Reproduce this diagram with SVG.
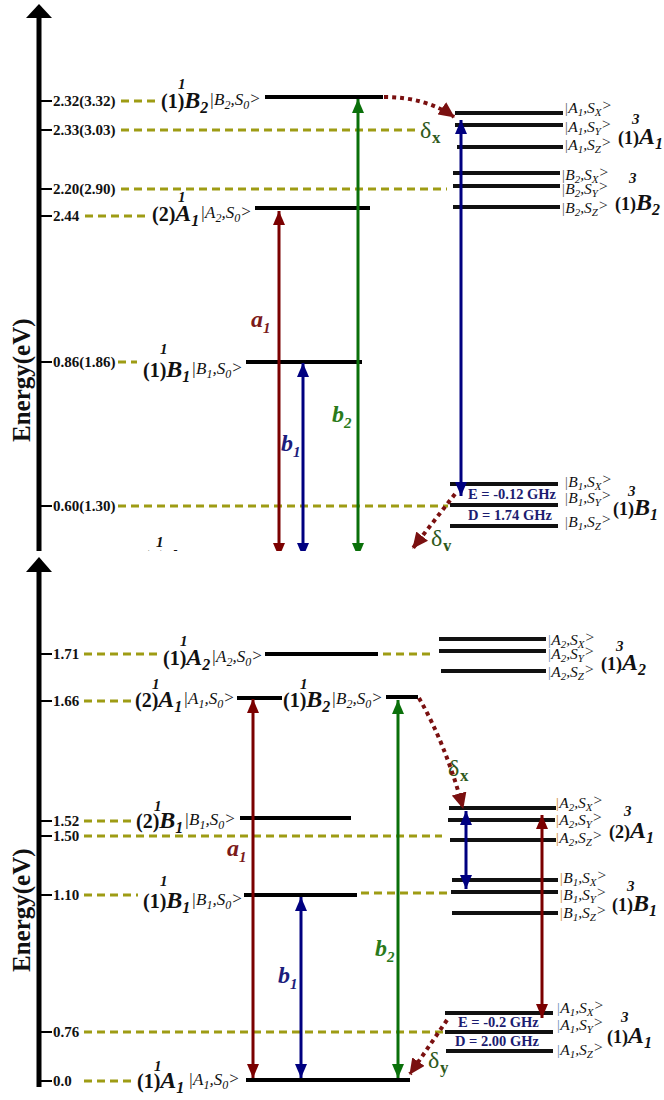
<svg xmlns="http://www.w3.org/2000/svg" width="664" height="1100" viewBox="0 0 664 1100">
<style>
text{font-family:"Liberation Serif","DejaVu Serif",serif;fill:#111}
.lv{stroke:#000;stroke-width:4}
.tl{stroke:#111;stroke-width:4}
.dash{stroke:#9e9c14;stroke-width:3;stroke-dasharray:8 5}
.tick{stroke:#000;stroke-width:2}
.axl{stroke:#000;stroke-width:5}
.num{font-size:15px;font-weight:bold}
.pn{font-size:20px;font-weight:bold}
.pt{font-size:18px;font-weight:bold}
.bg{font-size:24px;font-weight:bold;font-style:italic}
.bs{font-size:16px;font-weight:bold;font-style:italic}
.k{font-size:17px;font-style:italic}
.ks{font-size:12px;font-style:italic}
.r .k{font-size:15.5px}
.r .ks{font-size:11px}
.sup{font-size:15px;font-weight:bold;font-style:italic}
.ax{font-size:25px;font-weight:bold}
.ed{font-size:14.5px;font-weight:bold;fill:#1c1c70}
.del{font-size:24px;fill:#2f5a1c}
.dels{font-size:17px;font-weight:bold;fill:#2f5a1c}
.ar{stroke-width:3;fill:none}
.red{stroke:#7b0000}
.blu{stroke:#000080}
.grn{stroke:#0a700a}
.dot{stroke:#7a1010;stroke-width:4;stroke-dasharray:4 4;fill:none}
.la{font-size:24px;font-weight:bold;font-style:italic}
.lsub{font-size:15px;font-weight:bold;font-style:italic}
.bt{fill:#666}
.bb{fill:#7090b8}
.bo{fill:#d08a30}
</style>
<defs>
<clipPath id="clipTop"><rect x="0" y="0" width="664" height="551"/></clipPath>
<marker id="hr" viewBox="0 0 14 12" refX="14" refY="6" markerWidth="14" markerHeight="12" markerUnits="userSpaceOnUse" orient="auto-start-reverse"><path d="M0,0L14,6L0,12Z" fill="#7b0000"/></marker>
<marker id="hb" viewBox="0 0 14 12" refX="14" refY="6" markerWidth="14" markerHeight="12" markerUnits="userSpaceOnUse" orient="auto-start-reverse"><path d="M0,0L14,6L0,12Z" fill="#000080"/></marker>
<marker id="hg" viewBox="0 0 14 12" refX="14" refY="6" markerWidth="14" markerHeight="12" markerUnits="userSpaceOnUse" orient="auto-start-reverse"><path d="M0,0L14,6L0,12Z" fill="#0a700a"/></marker>
<marker id="hd" viewBox="0 0 16 15" refX="15" refY="7.5" markerWidth="16" markerHeight="15" markerUnits="userSpaceOnUse" orient="auto"><path d="M0,0L16,7.5L0,15Z" fill="#7a1010"/></marker>
</defs>
<rect width="664" height="1100" fill="#fff"/>

<!-- ================= TOP PANEL ================= -->
<g id="top-panel" clip-path="url(#clipTop)">
<g id="axis-top">
<line class="axl" x1="39" y1="16" x2="39" y2="556"/>
<polygon points="39,4 26,18 52,18" fill="#000"/>
<text class="ax" transform="translate(30,442) rotate(-90)">Energy(eV)</text>
</g>

<g id="t-s1B2">
<line class="tick" x1="41" y1="101" x2="52" y2="101"/>
<text class="num" x="53" y="106">2.32(3.32)</text>
<line class="dash" x1="121" y1="101" x2="158" y2="101"/>
<text x="161" y="108"><tspan class="pn">(1)</tspan><tspan class="bg">B</tspan><tspan class="bs" dy="5">2</tspan><tspan class="k" dy="-8" dx="1">|B</tspan><tspan class="ks" dy="4">2</tspan><tspan class="k" dy="-4">,S</tspan><tspan class="ks" dy="4">0</tspan><tspan class="k" dy="-5">&gt;</tspan></text>
<text class="sup" x="178" y="89">1</text>
<line class="lv" x1="265" y1="97" x2="383" y2="97"/>
</g>

<g id="t-s2A1">
<line class="tick" x1="41" y1="216" x2="52" y2="216"/>
<text class="num" x="53" y="221">2.44</text>
<line class="dash" x1="85" y1="216" x2="149" y2="216"/>
<text x="152" y="221"><tspan class="pn">(2)</tspan><tspan class="bg">A</tspan><tspan class="bs" dy="5">1</tspan><tspan class="k" dy="-8" dx="1">|A</tspan><tspan class="ks" dy="4">2</tspan><tspan class="k" dy="-4">,S</tspan><tspan class="ks" dy="4">0</tspan><tspan class="k" dy="-5">&gt;</tspan></text>
<text class="sup" x="178" y="202">1</text>
<line class="lv" x1="255" y1="208" x2="370" y2="208"/>
</g>

<g id="t-s1B1">
<line class="tick" x1="41" y1="362" x2="52" y2="362"/>
<text class="num" x="53" y="367">0.86(1.86)</text>
<line class="dash" x1="118" y1="362" x2="137" y2="362"/>
<text x="143" y="377"><tspan class="pn">(1)</tspan><tspan class="bg">B</tspan><tspan class="bs" dy="5">1</tspan><tspan class="k" dy="-8" dx="1">|B</tspan><tspan class="ks" dy="4">1</tspan><tspan class="k" dy="-4">,S</tspan><tspan class="ks" dy="4">0</tspan><tspan class="k" dy="-5">&gt;</tspan></text>
<text class="sup" x="160" y="354">1</text>
<line class="lv" x1="246" y1="362" x2="362" y2="362"/>
</g>

<g id="t-s1A1">
<text x="143" y="565"><tspan class="pn">(1)</tspan><tspan class="bg">A</tspan><tspan class="bs" dy="5">1</tspan></text>
<text class="sup" x="156" y="547">1</text>
</g>

<g id="t-t1A1">
<line class="tick" x1="41" y1="130" x2="52" y2="130"/>
<text class="num" x="53" y="135">2.33(3.03)</text>
<line class="dash" x1="121" y1="130" x2="418" y2="130"/>
<line class="tl" x1="455" y1="113" x2="563" y2="113"/>
<line class="tl" x1="455" y1="125" x2="563" y2="125"/>
<line class="tl" x1="457" y1="147" x2="563" y2="147"/>
<g class="r">
<text x="564" y="113"><tspan class="k bt">|</tspan><tspan class="k">A</tspan><tspan class="ks" dy="3">1</tspan><tspan class="k" dy="-3">,S</tspan><tspan class="ks" dy="3">X</tspan><tspan class="k" dy="-6">&gt;</tspan></text>
<text x="564" y="132"><tspan class="k bt">|</tspan><tspan class="k">A</tspan><tspan class="ks" dy="3">1</tspan><tspan class="k" dy="-3">,S</tspan><tspan class="ks" dy="3">Y</tspan><tspan class="k" dy="-6">&gt;</tspan></text>
<text x="564" y="150"><tspan class="k bt">|</tspan><tspan class="k">A</tspan><tspan class="ks" dy="3">1</tspan><tspan class="k" dy="-3">,S</tspan><tspan class="ks" dy="3">Z</tspan><tspan class="k" dy="-6">&gt;</tspan></text>
</g>
<text x="618" y="144"><tspan class="pt">(1)</tspan><tspan class="bg">A</tspan><tspan class="bs" dy="5">1</tspan></text>
<text class="sup" x="632" y="124">3</text>
<text class="del" x="420" y="138">δ</text><text class="dels" x="432" y="143">x</text>
</g>

<g id="t-t1B2">
<line class="tick" x1="41" y1="189" x2="52" y2="189"/>
<text class="num" x="53" y="194">2.20(2.90)</text>
<line class="dash" x1="121" y1="189" x2="447" y2="189"/>
<line class="tl" x1="453" y1="173" x2="560" y2="173"/>
<line class="tl" x1="453" y1="186" x2="560" y2="186"/>
<line class="tl" x1="453" y1="207" x2="560" y2="207"/>
<g class="r">
<text x="561" y="180"><tspan class="k bt">|</tspan><tspan class="k">B</tspan><tspan class="ks" dy="3">2</tspan><tspan class="k" dy="-3">,S</tspan><tspan class="ks" dy="3">X</tspan><tspan class="k" dy="-6">&gt;</tspan></text>
<text x="561" y="194"><tspan class="k bt">|</tspan><tspan class="k">B</tspan><tspan class="ks" dy="3">2</tspan><tspan class="k" dy="-3">,S</tspan><tspan class="ks" dy="3">Y</tspan><tspan class="k" dy="-6">&gt;</tspan></text>
<text x="561" y="213"><tspan class="k bt">|</tspan><tspan class="k">B</tspan><tspan class="ks" dy="3">2</tspan><tspan class="k" dy="-3">,S</tspan><tspan class="ks" dy="3">Z</tspan><tspan class="k" dy="-6">&gt;</tspan></text>
</g>
<text x="615" y="210"><tspan class="pt">(1)</tspan><tspan class="bg">B</tspan><tspan class="bs" dy="5">2</tspan></text>
<text class="sup" x="629" y="183">3</text>
</g>

<g id="t-t1B1">
<line class="tick" x1="41" y1="506" x2="52" y2="506"/>
<text class="num" x="53" y="511">0.60(1.30)</text>
<line class="dash" x1="118" y1="506" x2="448" y2="506"/>
<line class="tl" x1="450" y1="484" x2="558" y2="484"/>
<line class="tl" x1="450" y1="505" x2="558" y2="505"/>
<line class="tl" x1="450" y1="526" x2="558" y2="526"/>
<text class="ed" x="468" y="499">E = -0.12 GHz</text>
<text class="ed" x="468" y="520">D = 1.74 GHz</text>
<g class="r">
<text x="564" y="487"><tspan class="k bt">|</tspan><tspan class="k">B</tspan><tspan class="ks" dy="3">1</tspan><tspan class="k" dy="-3">,S</tspan><tspan class="ks" dy="3">X</tspan><tspan class="k" dy="-6">&gt;</tspan></text>
<text x="564" y="503"><tspan class="k bt">|</tspan><tspan class="k">B</tspan><tspan class="ks" dy="3">1</tspan><tspan class="k" dy="-3">,S</tspan><tspan class="ks" dy="3">Y</tspan><tspan class="k" dy="-6">&gt;</tspan></text>
<text x="564" y="527"><tspan class="k bt">|</tspan><tspan class="k">B</tspan><tspan class="ks" dy="3">1</tspan><tspan class="k" dy="-3">,S</tspan><tspan class="ks" dy="3">Z</tspan><tspan class="k" dy="-6">&gt;</tspan></text>
</g>
<text x="613" y="515"><tspan class="pt">(1)</tspan><tspan class="bg">B</tspan><tspan class="bs" dy="5">1</tspan></text>
<text class="sup" x="628" y="496">3</text>
<text class="del" x="431" y="546">δ</text><text class="dels" x="443" y="551">y</text>
</g>
</g>

<!-- ================= BOTTOM PANEL ================= -->
<g id="bottom-panel">
<g id="axis-bottom">
<line class="axl" x1="39" y1="570" x2="39" y2="1087"/>
<polygon points="39,557 26,572 52,572" fill="#000"/>
<text class="ax" transform="translate(30,972) rotate(-90)">Energy(eV)</text>
</g>

<g id="b-s1A2">
<line class="tick" x1="41" y1="654" x2="52" y2="654"/>
<text class="num" x="53" y="659">1.71</text>
<line class="dash" x1="84" y1="654" x2="160" y2="654"/>
<text x="163" y="665"><tspan class="pn">(1)</tspan><tspan class="bg">A</tspan><tspan class="bs" dy="5">2</tspan><tspan class="k" dy="-8" dx="1">|A</tspan><tspan class="ks" dy="4">2</tspan><tspan class="k" dy="-4">,S</tspan><tspan class="ks" dy="4">0</tspan><tspan class="k" dy="-5">&gt;</tspan></text>
<text class="sup" x="180" y="646">1</text>
<line class="lv" x1="265" y1="654" x2="378" y2="654"/>
<line class="dash" x1="383" y1="654" x2="434" y2="654"/>
</g>

<g id="b-s2A1">
<line class="tick" x1="41" y1="701" x2="52" y2="701"/>
<text class="num" x="53" y="706">1.66</text>
<line class="dash" x1="84" y1="701" x2="133" y2="701"/>
<text x="135" y="707"><tspan class="pn">(2)</tspan><tspan class="bg">A</tspan><tspan class="bs" dy="5">1</tspan><tspan class="k" dy="-8" dx="1">|A</tspan><tspan class="ks" dy="4">1</tspan><tspan class="k" dy="-4">,S</tspan><tspan class="ks" dy="4">0</tspan><tspan class="k" dy="-5">&gt;</tspan></text>
<text class="sup" x="152" y="689">1</text>
<line class="lv" x1="237" y1="698" x2="282" y2="698"/>
</g>

<g id="b-s1B2">
<text x="283" y="707"><tspan class="pn">(1)</tspan><tspan class="bg">B</tspan><tspan class="bs" dy="5">2</tspan><tspan class="k" dy="-8" dx="1">|B</tspan><tspan class="ks" dy="4">2</tspan><tspan class="k" dy="-4">,S</tspan><tspan class="ks" dy="4">0</tspan><tspan class="k" dy="-5">&gt;</tspan></text>
<text class="sup" x="300" y="689">1</text>
<line class="lv" x1="386" y1="697" x2="418" y2="697"/>
</g>

<g id="b-s2B1">
<line class="tick" x1="41" y1="821" x2="52" y2="821"/>
<text class="num" x="53" y="826">1.52</text>
<line class="dash" x1="84" y1="821" x2="134" y2="821"/>
<text x="136" y="828"><tspan class="pn">(2)</tspan><tspan class="bg">B</tspan><tspan class="bs" dy="5">1</tspan><tspan class="k" dy="-8" dx="1">|B</tspan><tspan class="ks" dy="4">1</tspan><tspan class="k" dy="-4">,S</tspan><tspan class="ks" dy="4">0</tspan><tspan class="k" dy="-5">&gt;</tspan></text>
<text class="sup" x="154" y="811">1</text>
<line class="lv" x1="240" y1="818" x2="351" y2="818"/>
</g>

<g id="b-s1B1">
<line class="tick" x1="41" y1="895" x2="52" y2="895"/>
<text class="num" x="53" y="900">1.10</text>
<line class="dash" x1="84" y1="895" x2="138" y2="895"/>
<text x="143" y="908"><tspan class="pn">(1)</tspan><tspan class="bg">B</tspan><tspan class="bs" dy="5">1</tspan><tspan class="k" dy="-8" dx="1">|B</tspan><tspan class="ks" dy="4">1</tspan><tspan class="k" dy="-4">,S</tspan><tspan class="ks" dy="4">0</tspan><tspan class="k" dy="-5">&gt;</tspan></text>
<text class="sup" x="160" y="886">1</text>
<line class="lv" x1="244" y1="895" x2="357" y2="895"/>
<line class="dash" x1="361" y1="893" x2="450" y2="893"/>
</g>

<g id="b-s1A1">
<line class="tick" x1="41" y1="1081" x2="52" y2="1081"/>
<text class="num" x="53" y="1086">0.0</text>
<line class="dash" x1="84" y1="1081" x2="132" y2="1081"/>
<text x="137" y="1088"><tspan class="pn">(1)</tspan><tspan class="bg">A</tspan><tspan class="bs" dy="5">1</tspan><tspan class="k" dy="-8" dx="4">|A</tspan><tspan class="ks" dy="4">1</tspan><tspan class="k" dy="-4">,S</tspan><tspan class="ks" dy="4">0</tspan><tspan class="k" dy="-5">&gt;</tspan></text>
<text class="sup" x="154" y="1071">1</text>
<line class="lv" x1="246" y1="1080" x2="410" y2="1080"/>
</g>

<g id="b-t1A2">
<line class="tl" x1="439" y1="639" x2="546" y2="639"/>
<line class="tl" x1="439" y1="651" x2="546" y2="651"/>
<line class="tl" x1="441" y1="671" x2="546" y2="671"/>
<g class="r">
<text x="547" y="645"><tspan class="k bb">|</tspan><tspan class="k">A</tspan><tspan class="ks" dy="3">2</tspan><tspan class="k" dy="-3">,S</tspan><tspan class="ks" dy="3">X</tspan><tspan class="k" dy="-6">&gt;</tspan></text>
<text x="547" y="659"><tspan class="k bb">|</tspan><tspan class="k">A</tspan><tspan class="ks" dy="3">2</tspan><tspan class="k" dy="-3">,S</tspan><tspan class="ks" dy="3">Y</tspan><tspan class="k" dy="-6">&gt;</tspan></text>
<text x="547" y="677"><tspan class="k bb">|</tspan><tspan class="k">A</tspan><tspan class="ks" dy="3">2</tspan><tspan class="k" dy="-3">,S</tspan><tspan class="ks" dy="3">Z</tspan><tspan class="k" dy="-6">&gt;</tspan></text>
</g>
<text x="601" y="670"><tspan class="pt">(1)</tspan><tspan class="bg">A</tspan><tspan class="bs" dy="5">2</tspan></text>
<text class="sup" x="616" y="651">3</text>
</g>

<g id="b-t2A1">
<line class="tick" x1="41" y1="836" x2="52" y2="836"/>
<text class="num" x="53" y="841">1.50</text>
<line class="dash" x1="84" y1="836" x2="442" y2="836"/>
<line class="tl" x1="449" y1="808" x2="556" y2="808"/>
<line class="tl" x1="448" y1="820" x2="555" y2="820"/>
<line class="tl" x1="450" y1="840" x2="556" y2="840"/>
<g class="r">
<text x="555" y="808"><tspan class="k bo">|</tspan><tspan class="k">A</tspan><tspan class="ks" dy="3">2</tspan><tspan class="k" dy="-3">,S</tspan><tspan class="ks" dy="3">X</tspan><tspan class="k" dy="-6">&gt;</tspan></text>
<text x="555" y="825"><tspan class="k bo">|</tspan><tspan class="k">A</tspan><tspan class="ks" dy="3">2</tspan><tspan class="k" dy="-3">,S</tspan><tspan class="ks" dy="3">Y</tspan><tspan class="k" dy="-6">&gt;</tspan></text>
<text x="555" y="843"><tspan class="k bo">|</tspan><tspan class="k">A</tspan><tspan class="ks" dy="3">2</tspan><tspan class="k" dy="-3">,S</tspan><tspan class="ks" dy="3">Z</tspan><tspan class="k" dy="-6">&gt;</tspan></text>
</g>
<text x="609" y="838"><tspan class="pt">(2)</tspan><tspan class="bg">A</tspan><tspan class="bs" dy="5">1</tspan></text>
<text class="sup" x="624" y="816">3</text>
<text class="del" x="448" y="776">δ</text><text class="dels" x="460" y="781">x</text>
</g>

<g id="b-t1B1">
<line class="tl" x1="452" y1="880" x2="558" y2="880"/>
<line class="tl" x1="451" y1="892" x2="558" y2="892"/>
<line class="tl" x1="452" y1="913" x2="558" y2="913"/>
<g class="r">
<text x="559" y="883"><tspan class="k bo">|</tspan><tspan class="k">B</tspan><tspan class="ks" dy="3">1</tspan><tspan class="k" dy="-3">,S</tspan><tspan class="ks" dy="3">X</tspan><tspan class="k" dy="-6">&gt;</tspan></text>
<text x="559" y="900"><tspan class="k bo">|</tspan><tspan class="k">B</tspan><tspan class="ks" dy="3">1</tspan><tspan class="k" dy="-3">,S</tspan><tspan class="ks" dy="3">Y</tspan><tspan class="k" dy="-6">&gt;</tspan></text>
<text x="559" y="918"><tspan class="k bo">|</tspan><tspan class="k">B</tspan><tspan class="ks" dy="3">1</tspan><tspan class="k" dy="-3">,S</tspan><tspan class="ks" dy="3">Z</tspan><tspan class="k" dy="-6">&gt;</tspan></text>
</g>
<text x="612" y="911"><tspan class="pt">(1)</tspan><tspan class="bg">B</tspan><tspan class="bs" dy="5">1</tspan></text>
<text class="sup" x="627" y="891">3</text>
</g>

<g id="b-t1A1">
<line class="tick" x1="41" y1="1032" x2="52" y2="1032"/>
<text class="num" x="53" y="1037">0.76</text>
<line class="dash" x1="84" y1="1032" x2="444" y2="1032"/>
<line class="tl" x1="445" y1="1013" x2="553" y2="1013"/>
<line class="tl" x1="445" y1="1032" x2="553" y2="1032"/>
<line class="tl" x1="446" y1="1051" x2="553" y2="1051"/>
<text class="ed" x="458" y="1027">E = -0.2 GHz</text>
<text class="ed" x="455" y="1046">D = 2.00 GHz</text>
<g class="r">
<text x="556" y="1013"><tspan class="k bb">|</tspan><tspan class="k">A</tspan><tspan class="ks" dy="3">1</tspan><tspan class="k" dy="-3">,S</tspan><tspan class="ks" dy="3">X</tspan><tspan class="k" dy="-6">&gt;</tspan></text>
<text x="556" y="1030"><tspan class="k bb">|</tspan><tspan class="k">A</tspan><tspan class="ks" dy="3">1</tspan><tspan class="k" dy="-3">,S</tspan><tspan class="ks" dy="3">Y</tspan><tspan class="k" dy="-6">&gt;</tspan></text>
<text x="556" y="1055"><tspan class="k bb">|</tspan><tspan class="k">A</tspan><tspan class="ks" dy="3">1</tspan><tspan class="k" dy="-3">,S</tspan><tspan class="ks" dy="3">Z</tspan><tspan class="k" dy="-6">&gt;</tspan></text>
</g>
<text x="607" y="1043"><tspan class="pt">(1)</tspan><tspan class="bg">A</tspan><tspan class="bs" dy="5">1</tspan></text>
<text class="sup" x="621" y="1022">3</text>
<text class="del" x="428" y="1068">δ</text><text class="dels" x="440" y="1073">y</text>
</g>
</g>

<!-- ================= CONNECTORS ================= -->
<g id="connectors">
<g id="conn-top" clip-path="url(#clipTop)">
<line class="ar red" x1="279" y1="211" x2="279" y2="557" marker-start="url(#hr)" marker-end="url(#hr)"/>
<line class="ar blu" x1="303" y1="363" x2="303" y2="557" marker-start="url(#hb)" marker-end="url(#hb)"/>
<line class="ar grn" x1="358" y1="99" x2="358" y2="557" marker-start="url(#hg)" marker-end="url(#hg)"/>
<line class="ar blu" x1="461" y1="120" x2="461" y2="496" marker-start="url(#hb)" marker-end="url(#hb)"/>
<path class="dot" d="M384,97 C412,97 436,104 454,117" marker-end="url(#hd)"/>
<path class="dot" d="M455,494 L413,548" marker-end="url(#hd)"/>
<text class="la" x="251" y="327" style="fill:#7b1a1a">a</text><text class="lsub" x="263" y="333" style="fill:#7b1a1a">1</text>
<text class="la" x="281" y="451" style="fill:#1c1c7c">b</text><text class="lsub" x="293" y="457" style="fill:#1c1c7c">1</text>
<text class="la" x="332" y="422" style="fill:#2a7a1a">b</text><text class="lsub" x="344" y="428" style="fill:#2a7a1a">2</text>
</g>
<g id="conn-bottom">
<line class="ar red" x1="253" y1="699" x2="253" y2="1078" marker-start="url(#hr)" marker-end="url(#hr)"/>
<line class="ar blu" x1="301" y1="897" x2="301" y2="1078" marker-start="url(#hb)" marker-end="url(#hb)"/>
<line class="ar grn" x1="398" y1="700" x2="398" y2="1078" marker-start="url(#hg)" marker-end="url(#hg)"/>
<line class="ar blu" x1="466" y1="811" x2="466" y2="889" marker-start="url(#hb)" marker-end="url(#hb)"/>
<line class="ar red" x1="542" y1="815" x2="542" y2="1018" marker-start="url(#hr)" marker-end="url(#hr)"/>
<path class="dot" d="M419,698 Q446,745 463,808" marker-end="url(#hd)"/>
<path class="dot" d="M447,1020 L410,1074" marker-end="url(#hd)"/>
<text class="la" x="227" y="856" style="fill:#7b1a1a">a</text><text class="lsub" x="239" y="862" style="fill:#7b1a1a">1</text>
<text class="la" x="278" y="983" style="fill:#1c1c7c">b</text><text class="lsub" x="290" y="989" style="fill:#1c1c7c">1</text>
<text class="la" x="375" y="956" style="fill:#2a7a1a">b</text><text class="lsub" x="387" y="962" style="fill:#2a7a1a">2</text>
</g>
</g>
</svg>
